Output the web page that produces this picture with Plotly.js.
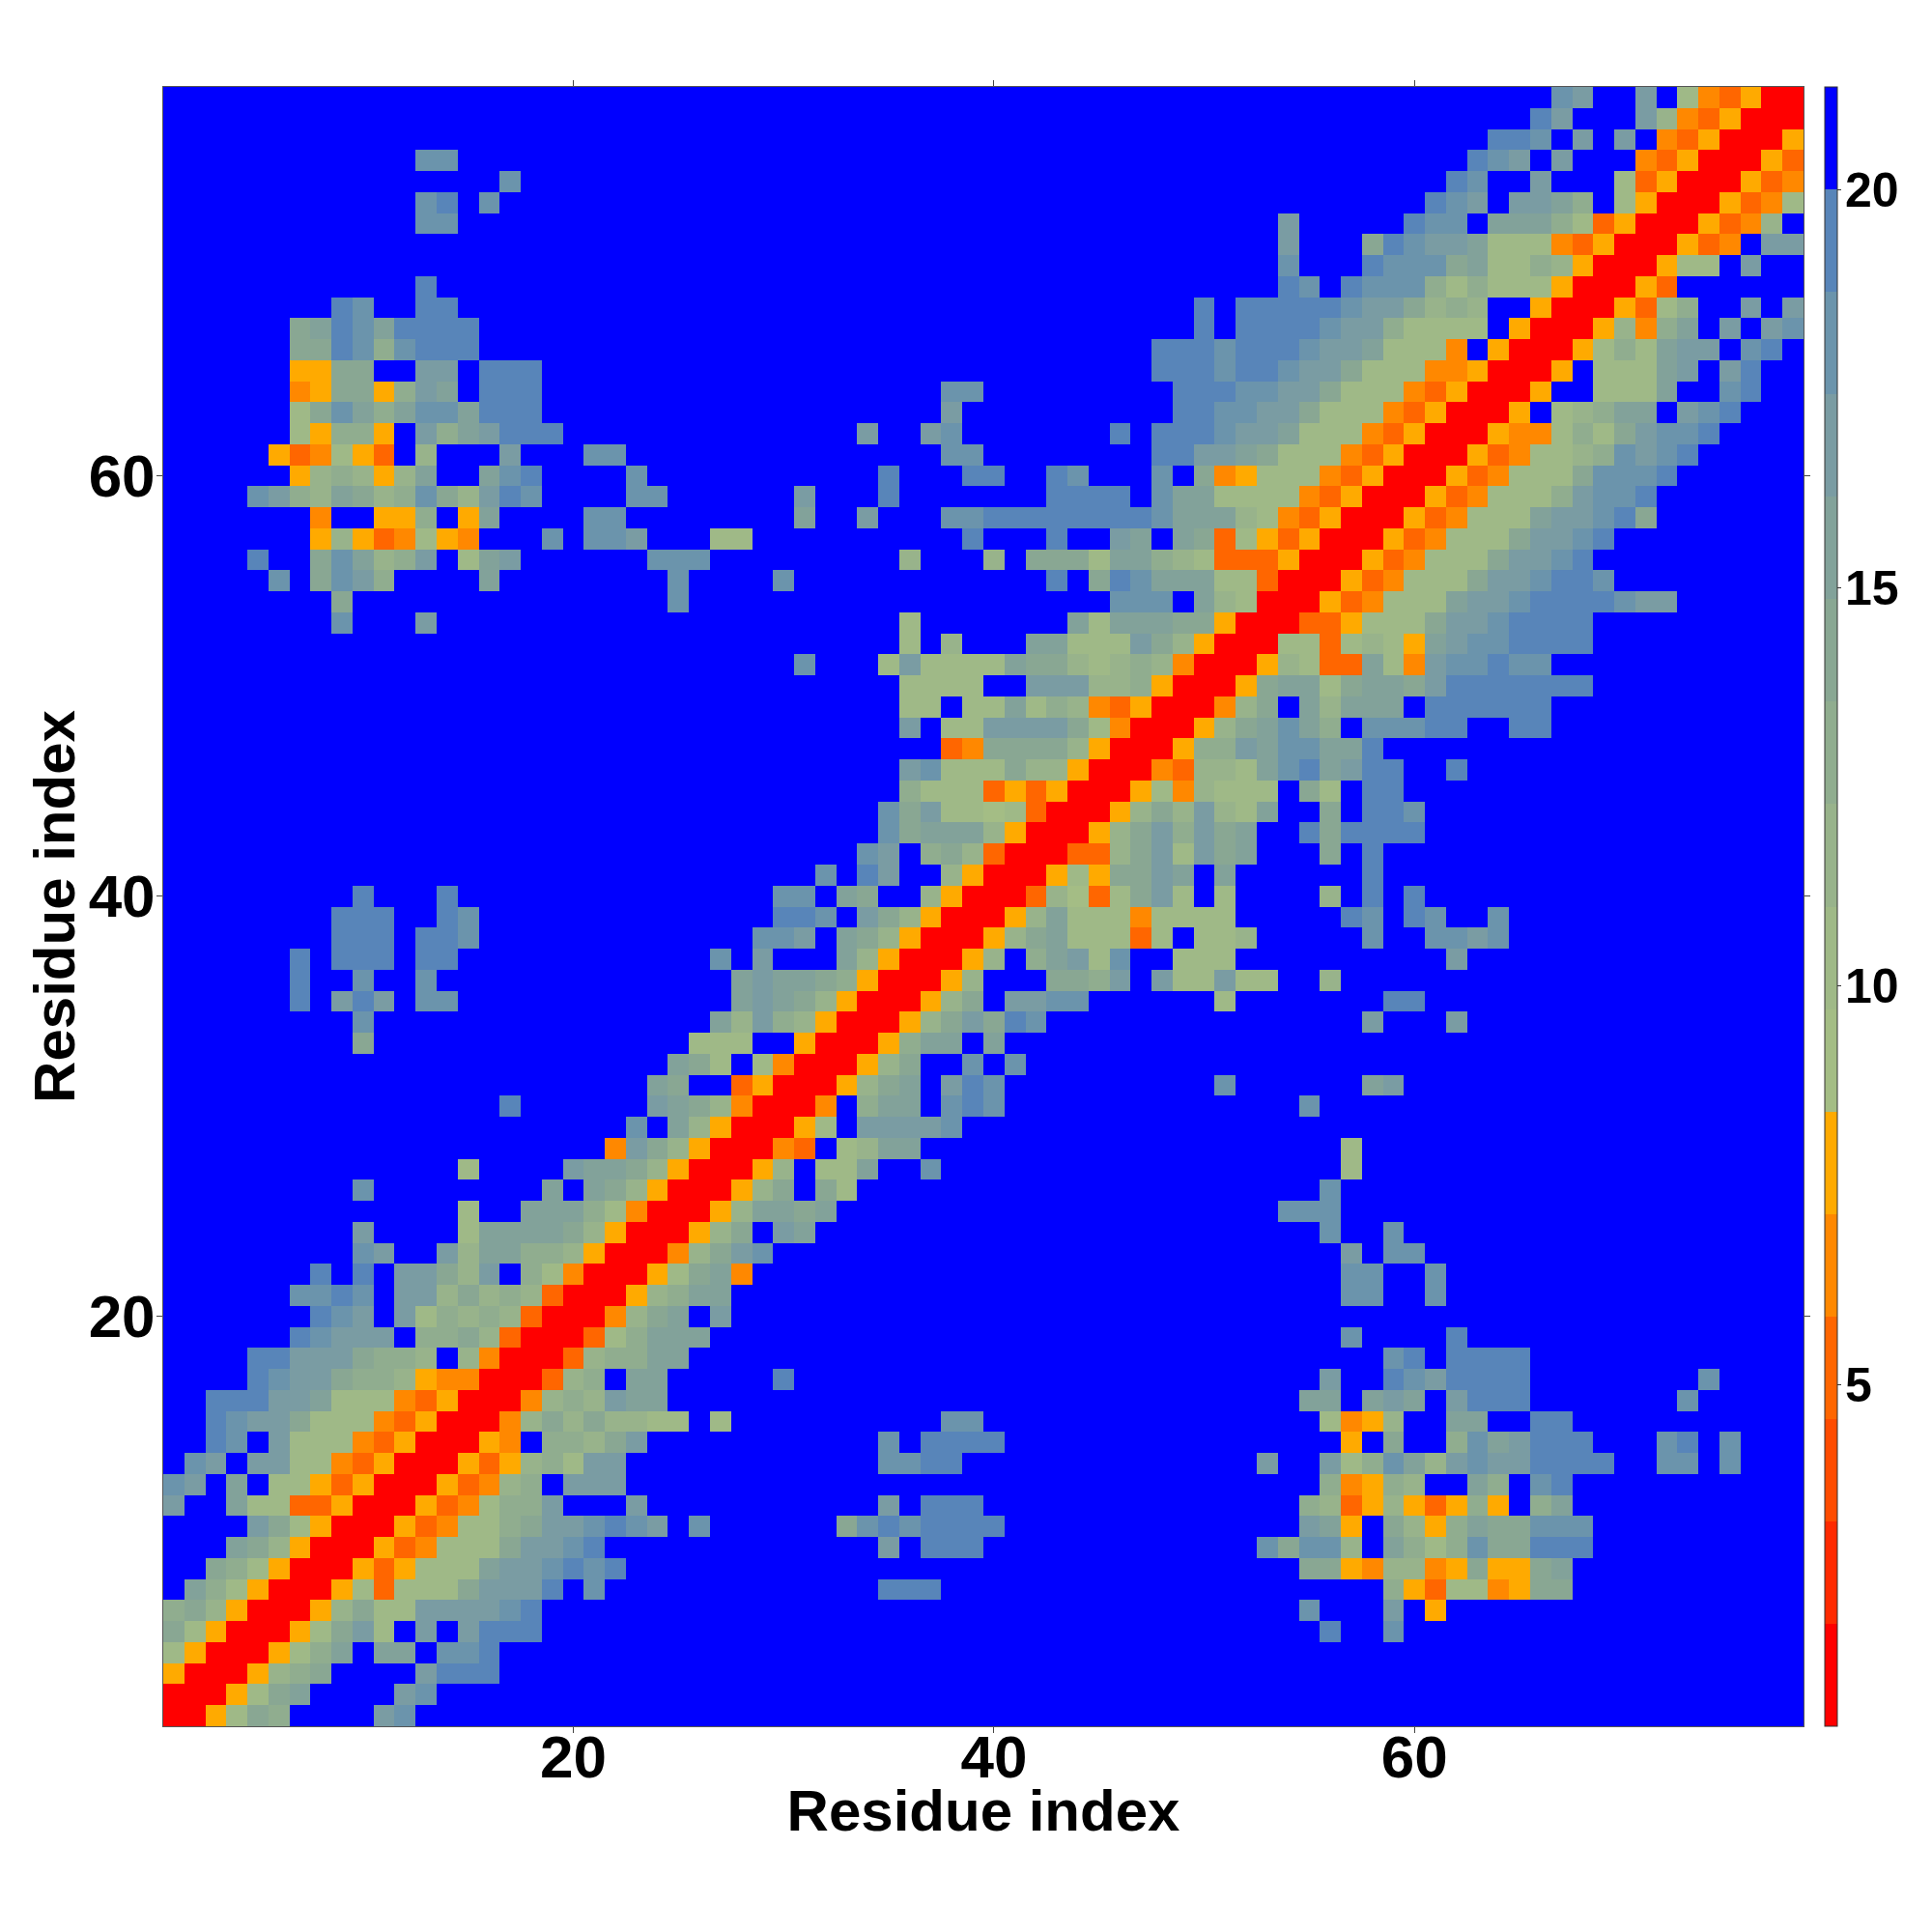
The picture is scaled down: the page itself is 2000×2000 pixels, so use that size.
<!DOCTYPE html>
<html>
<head>
<meta charset="utf-8">
<script src="https://cdn.plot.ly/plotly-3.0.1.min.js"></script>
<style>html,body{margin:0;padding:0;background:#fff}</style>
</head>
<body>
<div id="chart" style="width:2000px;height:2000px"></div>
<script>
// Residue numbers and tick labels
const residueCount = 78;
const axisTicks = [20, 40, 60];
const colorbarTicks = [5, 10, 15, 20];

// Colour bar bands, lowest to highest distance
const bandWidth = 9 / 7;
const bandBottom = 20 - 15 * bandWidth;
const bandColors = ['#ff0000','#ff2a00','#ff4c00','#ff6600','#ff8800','#ffaa00',
  '#a4bd85','#9fb987','#98b38b','#90ad8f','#89a793','#82a29a','#7a9ca3','#6b94ac','#5885b9','#0000ff'];
// Symbols used in the rows below, in the same order as the bands (. = beyond 20 Å)
const bandSymbols = 'R__OPQabcdefghi.';

// Symmetric map: lower triangle, row for residue 1 first, columns 1..row.
// A number stands for that many "." cells.
const triangleRows = [
'R','RR','QRR','bQRR','ebQRR','decQRR','.fdbQRR','..edbQRR','...fecQRR','....gebQRR',
'g..fbbOOQRR','hg.f.bbQOQRR','.hg.ggbbPOQRR','..ih.gbbbPOQRR','..ihggebbbPOQRR','..iiiggfbbbPOQRR',
'....ihggeddcQPPRR','....iigggeddc.cPRR','......ihggg.ddecORR','.......ihg.gbdcdcORR',
'......hhih.ggcecdcORR','.......i.i.ggecg.dbPRR','9hg..gcffddcQRR','9g4bffffecQRR',
'14b2fffdbPRR','9h8f.fecQRR','14b4gffecQRR','21PgecQRR','22h.fcQRR','16i6gfecPRR',
'23fe2OQRR','24feb.bPRR','9e15bbb2QRR','9h16fcgdcQRR','6i.gig.hh13fgfecQRR','6i2h2h14fgffedQRR',
'6i.iii.ii12h.g3fcQRR','8iii.iih13hhg.fecQRR','8iii2ih14iih.gecQRR','9i3i15hh.fe2cQRR',
'31h.ig2cQRR','33hg.decORR','34hefffcQRR','34hegbbabORR','35dbbbOQOQRR','35ghbbbeccQRR',
'37OPeeeecQRR','35g.bbggggebPRR','35bb.bbfbdcPOQRR','35bbbb2gggccdQRR','30h3bgbbbbfeecbcdcPRR',
'35b.c3ffbbbgecQRR','8h3g22b7fbfffeeQRR','8e15h20hhh.fcbRR','5h.ehgd4f8h4h12i.eihfffbbORR',
'4i2ehfcdg.bfg6hhh9c3c.eeebffdcbOOOQRR','7QcQOPbQP3h.hhg3bb10i3i2gf.feObQOQRR',
'7P2QQd.Qf4hh8f2g3hhiiiiiiiihfffcbPOQRR','4hgdcfecdhecgih4hh6g3i7iiii.hffbbbbPOQRR',
'6QcdcQcf2fhi4h11i3ii2ih3h.ePQbbbPOQRR','5QOPbQO.c3g3hh15hh8iiggfebbbPOQRR',
'6bQddQ.gdfgiii14g2gh7i.iiihggfbbbPOQRR','6behfdfhhfiii19g10iihhggebbbPOQRR',
'6PQeeQdgf.iii19hh9iiihhggebbbPOQRR','6QQee2gg.iii29iiihiihggebbbPPQRR',
'6eeihdhiii32iiihiiihggfbbbP.QRR','6efihfiiii34i.iiiihggdbbbb.QRR','8ih2ii35i.iiiiihggecdc2QRR',
'12i40ih.ihhhdbdbbbQRR','53h3ihhhefbbdcQRR','53g3eihggfbbbPOQRR','12hh39g5ihh.fffdbOQRR',
'12hi.h44ihg.ggfd.bQRR','16h44ih2g3bOQRR','12hh48ihg.g3POQRR','63iih.g.g.POQRR','65ig3gcPOQRR','66hg2g.bPOQRR'
];

const residues = Array.from({length: residueCount}, (_, i) => i + 1);
const expanded = triangleRows.map(s => s.replace(/\d+/g, n => '.'.repeat(+n)));
const bandValue = ch => bandBottom + (bandSymbols.indexOf(ch) + 0.5) * bandWidth;
const z = residues.map((_, r) => residues.map((_, c) =>
  bandValue(c <= r ? expanded[r][c] : expanded[c][r])));

const colorscale = [];
bandColors.forEach((col, k) => {
  colorscale.push([k / bandColors.length, col]);
  colorscale.push([(k + 1) / bandColors.length, col]);
});

const font = {family: '"Liberation Sans", Arial, sans-serif', color: '#000', size: 60, weight: 700};
const tickFont = Object.assign({}, font, {size: 62});
const axis = {
  range: [0.5, residueCount + 0.5], tickmode: 'array', tickvals: axisTicks, ticktext: axisTicks.map(String),
  ticks: 'outside', ticklen: 6, tickwidth: 1, tickcolor: '#444', showgrid: false, zeroline: false,
  showline: true, linewidth: 1, linecolor: '#555', mirror: 'ticks', tickfont: tickFont
};

Plotly.newPlot('chart', [{
  type: 'heatmap', x: residues, y: residues, z: z,
  zmin: bandBottom, zmax: 20 + bandWidth, colorscale: colorscale, zsmooth: false,
  colorbar: {
    x: 1.0129, xanchor: 'left', xref: 'paper', y: 0, yanchor: 'bottom', yref: 'paper', len: 1, lenmode: 'fraction',
    thickness: 13, thicknessmode: 'pixels', xpad: 0, ypad: 0,
    outlinewidth: 1, outlinecolor: '#333', borderwidth: 0,
    tickmode: 'array', tickvals: colorbarTicks, ticktext: colorbarTicks.map(String),
    ticks: 'outside', ticklen: 4, tickwidth: 1, tickcolor: '#333',
    tickfont: {family: font.family, color: '#000', size: 50, weight: 700}
  }
}], {
  width: 2000, height: 2000, autosize: false,
  margin: {l: 169, r: 133, t: 89.5, b: 213, pad: 0},
  paper_bgcolor: '#fff', plot_bgcolor: '#fff',
  xaxis: Object.assign({}, axis, {ticklabelstandoff: -28, title: {text: 'Residue index', font: font, standoff: 0}}),
  yaxis: Object.assign({}, axis, {ticklabelstandoff: -11, title: {text: 'Residue index', font: font, standoff: 0}}),
  showlegend: false
}, {staticPlot: true, displayModeBar: false}).then(gd => {
  // The titles and colour bar labels sit closer than the library's minimum spacing allows
  const nudge = (el, dx, dy) => {
    if (el) el.setAttribute('transform', `translate(${dx},${dy}) ${el.getAttribute('transform') || ''}`);
  };
  nudge(gd.querySelector('.xtitle'), 0, -12);
  nudge(gd.querySelector('.ytitle'), 6, 0);
  gd.querySelectorAll('.colorbar .cbaxis text, .colorbar .ticks text, .colorbar g.ycbaxislayer-above text')
    .forEach(el => nudge(el, -6, 0));
});
</script>
</body>
</html>
